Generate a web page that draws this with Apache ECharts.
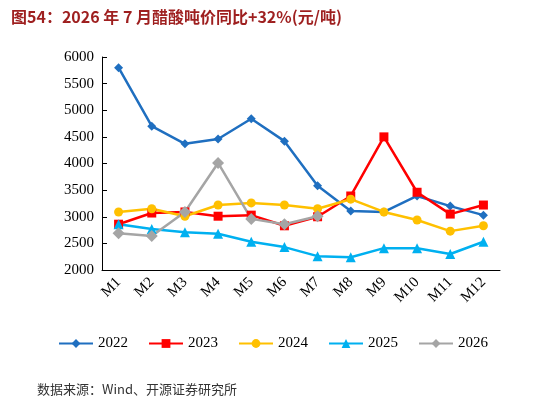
<!DOCTYPE html>
<html><head><meta charset="utf-8">
<script src="https://cdn.jsdelivr.net/npm/echarts@6/dist/echarts.min.js"></script>
<style>body{margin:0}#c{width:546px;height:404px}</style></head>
<body><div id="c"></div>
<script>
const categories=['M1','M2','M3','M4','M5','M6','M7','M8','M9','M10','M11','M12'];
const s2022=[5800,4700,4370,4460,4840,4420,3580,3110,3090,3390,3200,3030];
const s2023=[2860,3070,3090,3010,3030,2830,3000,3390,4500,3460,3050,3220];
const s2024=[3090,3150,3010,3220,3260,3220,3150,3330,3090,2940,2730,2830];
const s2025=[2860,2770,2710,2680,2530,2430,2260,2240,2410,2410,2300,2530];
const s2026=[2690,2640,3090,4010,2960,2860,3010];
const yTicks={min:2000,max:6000,interval:500};
const ff='"Times New Roman","Liberation Serif",serif';
const mk=(name,data,color,symbol,size)=>({name,type:'line',data,symbol,symbolSize:size,
 lineStyle:{color,width:2.5},itemStyle:{color},color});
const chart=echarts.init(document.getElementById('c'));
chart.setOption({
 animation:false,
 title:[{text:'图54：2026 年 7 月醋酸吨价同比+32%(元/吨)',left:6,top:4,
   textStyle:{color:'#9E1F1F',fontSize:16,fontWeight:'bold',fontFamily:'"Noto Sans CJK SC",serif'}},
  {text:'数据来源：Wind、开源证券研究所',left:32,top:378,
   textStyle:{color:'#333',fontSize:13,fontWeight:'normal',fontFamily:'"Noto Sans CJK SC",serif'}}],
 grid:{left:102,right:46,top:57,bottom:134},
 legend:{top:331,left:'center',itemGap:20,itemWidth:34,itemHeight:11,
   textStyle:{fontSize:15,fontFamily:ff,color:'#000'}},
 xAxis:{type:'category',data:categories,boundaryGap:true,
   axisLine:{lineStyle:{color:'#000'}},axisTick:{show:false},
   axisLabel:{rotate:45,fontSize:15,fontFamily:ff,color:'#000',margin:10}},
 yAxis:{type:'value',...yTicks,splitLine:{show:false},
   axisLine:{show:true,lineStyle:{color:'#000'}},axisTick:{show:true,inside:true},
   axisLabel:{fontSize:15,fontFamily:ff,color:'#000',formatter:v=>String(v)}},
 series:[mk('2022',s2022,'#1F6FC0','diamond',9),
  mk('2023',s2023,'#FF0000','rect',9),
  mk('2024',s2024,'#FFC000','circle',9),
  mk('2025',s2025,'#00B0F0','triangle',10),
  mk('2026',s2026,'#A5A5A5','diamond',12)]
});
</script></body></html>
